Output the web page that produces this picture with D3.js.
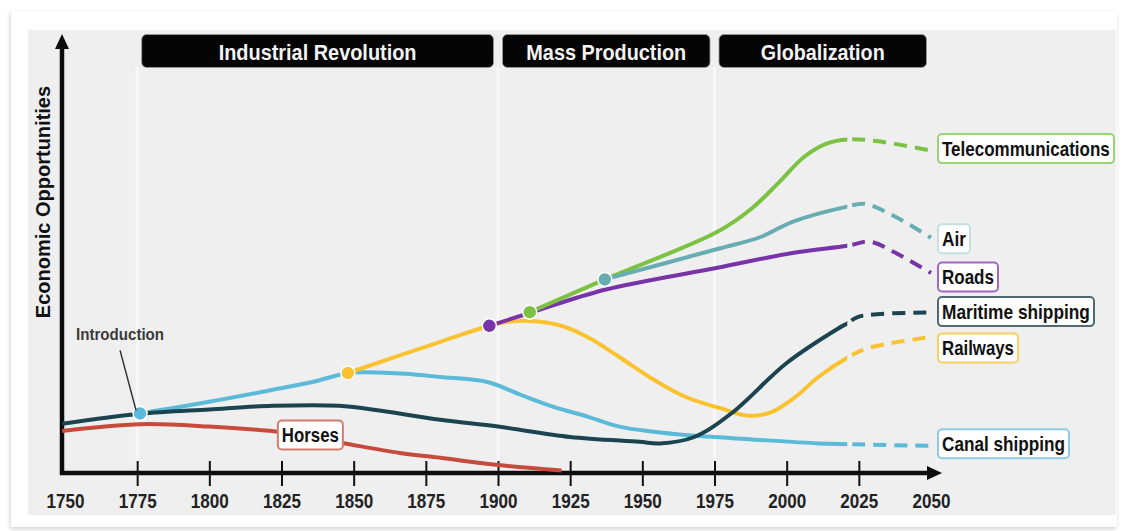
<!DOCTYPE html>
<html>
<head>
<meta charset="utf-8">
<script src="https://cdn.jsdelivr.net/npm/d3@7"></script>
<style>
  body { margin: 0; background: #fff; }
  text { font-family: "Liberation Sans Narrow", "Arial Narrow", "Liberation Sans", Arial, sans-serif; font-weight: bold; }
</style>
</head>
<body>
<div id="chart"></div>
<script>
// ---- data ----
const periods = ["Industrial Revolution", "Mass Production", "Globalization"];
const periodStart = [1775, 1900, 1975];
const periodEnd = [1900, 1975, 2050];
const tickYears = [1750, 1775, 1800, 1825, 1850, 1875, 1900, 1925, 1950, 1975, 2000, 2025, 2050];
const forecastFrom = 2021;

// [year, economic opportunity]
const horses = [[1749, 10.5], [1776, 12.2], [1800, 11.6], [1825, 10.2], [1846, 7.5], [1866, 5], [1880, 3.8], [1900, 2], [1922, 0.6]];
const maritime = [[1749, 12.3], [1776, 14.8], [1800, 15.9], [1822, 16.8], [1845, 16.8], [1857, 15.8], [1880, 13.3], [1900, 11.6], [1925, 9], [1949, 7.8], [1956, 7.4], [1968, 9], [1981, 15], [2000, 27.5], [2018, 36.2], [2021, 37.4], [2025, 39.1], [2050, 40.1]];
const canal = [[1776, 14.9], [1800, 17.8], [1822, 20.8], [1836, 22.8], [1848, 25], [1855, 25.2], [1868, 24.8], [1880, 24], [1896, 22.8], [1908, 19.5], [1919, 16.6], [1931, 14.1], [1942, 11.6], [1954, 10.3], [1965, 9.5], [1988, 8.4], [2011, 7.4], [2021, 7.2], [2050, 6.8]];
const railways = [[1848, 25], [1880, 32.8], [1897, 36.8], [1903, 37.8], [1911, 38], [1921, 37], [1931, 34], [1942, 29], [1954, 23.3], [1965, 19], [1977, 16.2], [1987, 14.3], [1995, 15.3], [2003, 19], [2011, 24], [2021, 28.8], [2028, 31.2], [2050, 34]];
const roads = [[1897, 36.8], [1911, 40], [1937, 45.8], [1976, 51.3], [2002, 55], [2021, 56.8], [2029, 57.8], [2037, 55.3], [2050, 50]];
const telecom = [[1911, 40.2], [1937, 48.4], [1976, 60.3], [1988, 66.2], [1997, 72.4], [2006, 79], [2014, 82.4], [2021, 83.4], [2031, 83], [2050, 80.6]];
const air = [[1937, 48.4], [1976, 56], [1991, 59], [2002, 62.8], [2021, 66.6], [2027, 67.3], [2037, 64.3], [2050, 58.8]];

// ---- series setup (draw order) ----
const series = [
    {name: "Horses", data: horses, color: "#c64b3d", border: "#d27b71", dot: false},
    {name: "Canal shipping", data: canal, color: "#5bbad8", border: "#8fcce2", dot: true},
    {name: "Railways", data: railways, color: "#f9c22e", border: "#f8cf62", dot: true},
    {name: "Maritime shipping", data: maritime, color: "#1b4450", border: "#4f6a73", dot: false},
    {name: "Roads", data: roads, color: "#7833a8", border: "#a066c8", dot: true},
    {name: "Telecommunications", data: telecom, color: "#7cc242", border: "#97d474", dot: true},
    {name: "Air", data: air, color: "#68adb2", border: "#c4dfe2", dot: true}
];

// label nudges and fitted widths
const labelNudge = {"Telecommunications": -2, "Air": 1, "Roads": 4, "Maritime shipping": -1, "Railways": 11, "Canal shipping": -2};
const labelWidth = {"Telecommunications": 168, "Air": 24, "Roads": 52, "Maritime shipping": 148, "Railways": 72, "Canal shipping": 123, "Horses": 57};
const headerWidth = [198, 160, 124];

const W = 1123, H = 531;
const svg = d3.select("#chart").append("svg")
    .attr("width", W)
    .attr("height", H);

// squeeze a text horizontally to a given width (keeps its anchor point)
function fitWidth(sel, width) {
    sel.each(function(d, i) {
        const t = d3.select(this);
        const w = typeof width === "function" ? width(d, i) : width;
        const k = Math.min(1, w / this.getComputedTextLength());
        const ax = +t.attr("x") || 0, ay = +t.attr("y") || 0;
        t.attr("transform", `translate(${ax},${ay}) scale(${k},1) translate(${-ax},${-ay})`);
    });
}

const defs = svg.append("defs");
const shadow = defs.append("filter").attr("id", "shadow")
    .attr("x", "-5%").attr("y", "-5%").attr("width", "110%").attr("height", "110%");
shadow.append("feDropShadow")
    .attr("dx", -1).attr("dy", 2).attr("stdDeviation", 2)
    .attr("flood-color", "#000").attr("flood-opacity", 0.18);

// card + grey panel
svg.append("rect")
    .attr("x", 11).attr("y", 11).attr("width", 1106).attr("height", 516)
    .attr("fill", "#fff").attr("filter", "url(#shadow)");
svg.append("rect")
    .attr("x", 28).attr("y", 30).attr("width", 1088).attr("height", 485)
    .attr("fill", "#efefef");

// scales
const x = d3.scaleLinear().domain([1750, 2050]).range([65, 931]);
const y = d3.scaleLinear().domain([0, 100]).range([473, 73]);
const axisX = 62, axisY = y(0);

// period guide lines
svg.append("g").selectAll("line")
    .data(periodStart)
    .enter().append("line")
    .attr("x1", d => x(d)).attr("x2", d => x(d))
    .attr("y1", 67).attr("y2", axisY)
    .attr("stroke", "#f8f8f8").attr("stroke-width", 3);

// period headers
const header = svg.append("g").selectAll("g")
    .data(periods)
    .enter().append("g");
header.append("rect")
    .attr("x", (d, i) => x(periodStart[i]) + 4.5)
    .attr("y", 34.5)
    .attr("width", (d, i) => x(periodEnd[i]) - x(periodStart[i]) - 9)
    .attr("height", 33)
    .attr("rx", 5)
    .attr("fill", "#050505")
    .attr("stroke", "#9a9a9a").attr("stroke-width", 0.8);
header.append("text")
    .attr("x", (d, i) => (x(periodStart[i]) + x(periodEnd[i])) / 2)
    .attr("y", 52)
    .attr("dy", "0.35em")
    .attr("text-anchor", "middle")
    .attr("font-size", 22)
    .attr("fill", "#f4f4f4")
    .text(d => d)
    .call(fitWidth, (d, i) => headerWidth[i]);

// x axis ticks and labels
const xAxis = svg.append("g")
    .attr("transform", `translate(0,${axisY})`)
    .call(d3.axisBottom(x).tickValues(tickYears).tickFormat(d3.format("d")).tickSize(0));
xAxis.select(".domain").remove();
xAxis.selectAll(".tick line")
    .attr("y1", -12).attr("y2", 13)
    .attr("stroke", "#111").attr("stroke-width", 2)
    .filter(d => d === 1750 || d === 2050).remove();
xAxis.selectAll(".tick text")
    .attr("y", 28)
    .attr("dy", "0.35em")
    .attr("font-size", 20)
    .attr("font-family", null)
    .attr("fill", "#222")
    .call(fitWidth, 38);

// axis lines with arrows
svg.append("path")
    .attr("d", `M${axisX},${y(100) - 28}V${axisY}H${x(2050) + 2}`)
    .attr("fill", "none").attr("stroke", "#0d0d0d").attr("stroke-width", 4.5)
    .attr("stroke-linejoin", "miter");
svg.append("path")
    .attr("d", `M${axisX},${34}l-7,15h14z`)
    .attr("fill", "#0d0d0d");
svg.append("path")
    .attr("d", `M${x(2050) + 11},${axisY}l-15,-7v14z`)
    .attr("fill", "#0d0d0d");

svg.append("g")
    .attr("transform", `translate(43,${202}) rotate(-90)`)
    .append("text")
    .attr("text-anchor", "middle")
    .attr("dy", "0.35em")
    .attr("font-size", 20)
    .attr("fill", "#111")
    .text("Economic Opportunities")
    .call(fitWidth, 240);

// clip paths for actual / projected parts
const split = x(forecastFrom);
defs.append("clipPath").attr("id", "clipPast")
    .append("rect").attr("x", 0).attr("y", 0).attr("width", split).attr("height", H);
defs.append("clipPath").attr("id", "clipFuture")
    .append("rect").attr("x", split).attr("y", 0).attr("width", W - split).attr("height", H);

const line = d3.line()
    .x(d => x(d[0]))
    .y(d => y(d[1]))
    .curve(d3.curveCatmullRom.alpha(0.5));

const lines = svg.append("g");
series.forEach(s => {
    lines.append("path")
        .datum(s.data)
        .attr("d", line)
        .attr("fill", "none")
        .attr("stroke", s.color)
        .attr("stroke-width", 4)
        .attr("clip-path", "url(#clipPast)");

    if (s.data[s.data.length - 1][0] > forecastFrom) {
        const dashed = lines.append("path")
            .datum(s.data)
            .attr("d", line)
            .attr("fill", "none")
            .attr("stroke", s.color)
            .attr("stroke-width", 4)
            .attr("stroke-dasharray", "13,8")
            .attr("clip-path", "url(#clipFuture)");
        // start the dash pattern at the split point (with a small gap first)
        const node = dashed.node();
        let lo = 0, hi = node.getTotalLength();
        for (let k = 0; k < 30; k++) {
            const mid = (lo + hi) / 2;
            if (node.getPointAtLength(mid).x < split) lo = mid; else hi = mid;
        }
        dashed.attr("stroke-dashoffset", -lo + 16);
    }
});

// introduction dots
svg.append("g").selectAll("circle")
    .data(series.filter(s => s.dot))
    .enter().append("circle")
    .attr("cx", s => x(s.data[0][0]))
    .attr("cy", s => y(s.data[0][1]))
    .attr("r", 7)
    .attr("fill", s => s.color)
    .attr("stroke", "#fff")
    .attr("stroke-width", 1.5);

// "Introduction" annotation
const intro = canal[0];
svg.append("line")
    .attr("x1", x(intro[0]) - 20).attr("y1", y(intro[1]) - 63)
    .attr("x2", x(intro[0]) - 4).attr("y2", y(intro[1]) - 3)
    .attr("stroke", "#333").attr("stroke-width", 1.5);
svg.append("text")
    .attr("x", x(intro[0]) - 20)
    .attr("y", y(intro[1]) - 79)
    .attr("dy", "0.35em")
    .attr("text-anchor", "middle")
    .attr("font-size", 17)
    .attr("fill", "#3a3a3a")
    .text("Introduction")
    .call(fitWidth, 88);

// label boxes
function labelBox(g, name, cx, cy, border, anchorLeft) {
    const w = labelWidth[name] + 8;
    const left = anchorLeft ? cx : cx - w / 2;
    g.append("rect")
        .attr("x", left).attr("y", cy - 14.5)
        .attr("width", w).attr("height", 29)
        .attr("rx", 4)
        .attr("fill", "#fff")
        .attr("stroke", border).attr("stroke-width", 2);
    g.append("text")
        .attr("x", left + 4).attr("y", cy)
        .attr("dy", "0.36em")
        .attr("font-size", 20)
        .attr("fill", "#111")
        .text(name)
        .call(fitWidth, labelWidth[name]);
}

const labels = svg.append("g");
series.filter(s => s.name !== "Horses").forEach(s => {
    const last = s.data[s.data.length - 1];
    labelBox(labels, s.name, 938, y(last[1]) + labelNudge[s.name], s.border, true);
});
// Horses label sits on its curve
labelBox(labels, "Horses", x(1835), y(9.5), series[0].border, false);
</script>
</body>
</html>
